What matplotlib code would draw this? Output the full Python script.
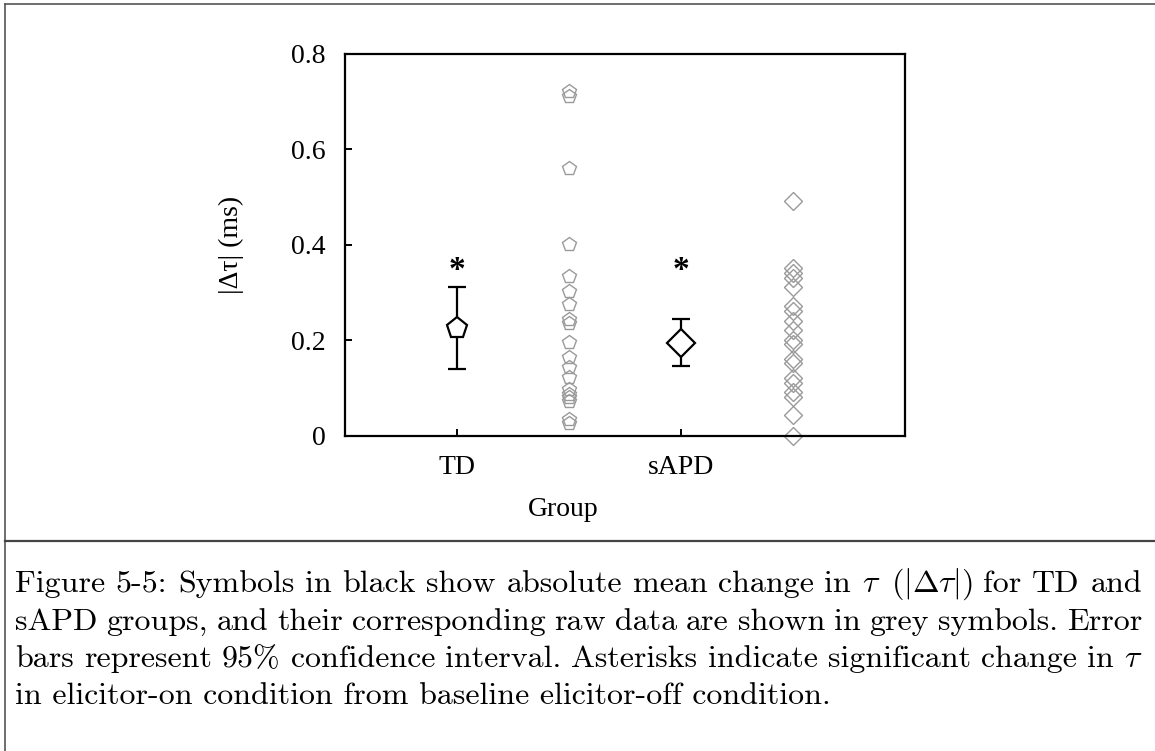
import matplotlib
matplotlib.use("Agg")
import matplotlib.pyplot as plt
from matplotlib.lines import Line2D

# group means with 95% CI limits
groups = ['TD', 'sAPD']
mean_vals = [0.225, 0.195]
ci_low = [0.140, 0.146]
ci_high = [0.311, 0.244]
star_y = [0.346, 0.346]

# raw |dtau| values per subject
td_raw = [0.722, 0.712, 0.561, 0.401, 0.334, 0.304, 0.275, 0.245, 0.236,
          0.196, 0.164, 0.143, 0.122, 0.098, 0.088, 0.080, 0.073, 0.035, 0.026]
sapd_raw = [0.491, 0.351, 0.341, 0.331, 0.311, 0.271, 0.261, 0.241, 0.221,
            0.201, 0.191, 0.161, 0.151, 0.121, 0.111, 0.091, 0.081, 0.044, 0.0]

caption = [
    r'Figure 5-5: Symbols in black show absolute mean change in $\tau$ ($|\Delta\tau|$) for TD and',
    r'sAPD groups, and their corresponding raw data are shown in grey symbols. Error',
    r'bars represent 95% confidence interval. Asterisks indicate significant change in $\tau$',
    r'in elicitor-on condition from baseline elicitor-off condition.',
]

plt.rcParams['mathtext.fontset'] = 'cm'
serif = 'Liberation Serif'

fig = plt.figure(figsize=(11.55, 7.51), dpi=100)
ax = fig.add_axes([0.2987, 0.4201, 0.4848, 0.508])

x_mean = [1, 3]
x_raw = [2, 4]
markers = ['p', 'D']
raw_sizes = [10.5, 9.5]
mean_sizes = [15.5, 14]
raw_sets = [td_raw, sapd_raw]

for i in range(2):
    ax.plot([x_raw[i]] * len(raw_sets[i]), raw_sets[i], linestyle='none',
            marker=markers[i], markersize=raw_sizes[i], markerfacecolor='none',
            markeredgecolor='#9a9a9a', markeredgewidth=1.0, clip_on=False)
    err = [[mean_vals[i] - ci_low[i]], [ci_high[i] - mean_vals[i]]]
    ax.errorbar(x_mean[i], mean_vals[i], yerr=err, fmt='none', ecolor='black',
                elinewidth=1.6, capsize=6.5, capthick=1.6)
    ax.plot(x_mean[i], mean_vals[i], linestyle='none', marker=markers[i],
            markersize=mean_sizes[i], markerfacecolor='white',
            markeredgecolor='black', markeredgewidth=1.6)
    ax.text(x_mean[i], star_y[i], '*', ha='center', va='center',
            fontsize=24, fontweight='bold', family=serif)

ax.set_xlim(0, 5)
ax.set_ylim(0, 0.8)
ax.set_xticks(x_mean)
ax.set_xticklabels(groups)
ax.set_yticks([0, 0.2, 0.4, 0.6, 0.8])
ax.set_yticklabels(['0', '0.2', '0.4', '0.6', '0.8'])
ax.tick_params(direction='in', length=5, width=1.4, labelsize=20)
ax.tick_params(axis='y', pad=14)
ax.tick_params(axis='x', pad=14)
for lab in ax.get_xticklabels() + ax.get_yticklabels():
    lab.set_family(serif)
for sp in ax.spines.values():
    sp.set_linewidth(1.6)

ax.set_ylabel('|\u0394\u03c4| (ms)', fontsize=20, family=serif)
ax.yaxis.set_label_coords(-0.18, 0.5)
ax.set_xlabel('Group', fontsize=20, family=serif)
ax.xaxis.set_label_coords(0.389, -0.16)

# page frame and caption separator
W, H = 1155, 751
fig.add_artist(Line2D([5 / W, 1], [1 - 4 / H, 1 - 4 / H], color='#555555', lw=1.2))
fig.add_artist(Line2D([5 / W, 5 / W], [0, 1 - 4 / H], color='#555555', lw=1.2))
fig.add_artist(Line2D([5 / W, 1], [1 - 541 / H, 1 - 541 / H], color='#444444', lw=1.6))

# caption, justified between left and right margins except the last line
x_left, x_right = 15, 1142
base_y = [592, 630, 667, 704]
renderer = fig.canvas.get_renderer()
for n, (line, y) in enumerate(zip(caption, base_y)):
    if n == len(caption) - 1:
        fig.text(x_left / W, 1 - y / H, line, ha='left', va='baseline',
                 fontsize=23, family='cmr10')
        continue
    words = line.split(' ')
    texts = [fig.text(0, 1 - y / H, w, ha='left', va='baseline',
                      fontsize=23, family='cmr10') for w in words]
    widths = [t.get_window_extent(renderer).width for t in texts]
    gap = (x_right - x_left - sum(widths)) / (len(words) - 1)
    xpos = x_left
    for t, w in zip(texts, widths):
        t.set_x(xpos / W)
        xpos += w + gap

fig.savefig('out.png', dpi=100)
